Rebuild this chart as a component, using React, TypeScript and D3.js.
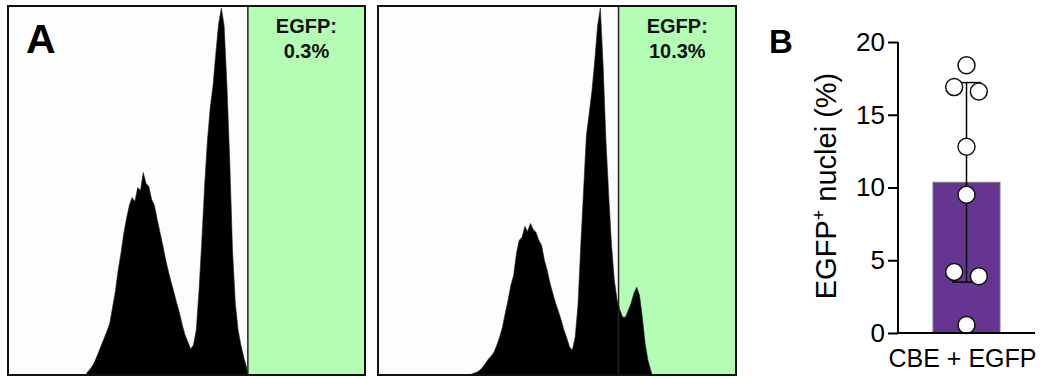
import React, { useEffect, useRef } from "react";
import * as d3 from "d3";

// ---------- Data ----------
// Flow cytometry histograms (counts per 2-channel bin, 256-channel scale)
const binWidth = 2;
const gateChannel = 172;
const leftStartChannel = 56;
const leftCounts = [
  3, 6, 10, 16, 23, 30, 37, 44, 52, 68, 84, 105, 122, 142, 157, 170, 178, 174,
  188, 185, 203, 192, 189, 176, 170, 156, 143, 130, 116, 104, 93, 83, 72, 62,
  50, 40, 33, 26, 30, 45, 85, 135, 190, 235, 268, 290, 322, 352, 368, 350, 290,
  215, 125, 72, 45, 30, 18, 8,
];
const rightStartChannel = 66;
const rightCounts = [
  1, 2, 3, 5, 8, 12, 16, 19, 23, 30, 38, 48, 62, 75, 90, 100, 122, 135, 138,
  149, 144, 152, 146, 143, 135, 130, 115, 105, 92, 82, 72, 64, 55, 45, 37, 28,
  25, 38, 70, 130, 185, 240, 262, 285, 315, 350, 368, 310, 235, 180, 130, 95,
  75, 65, 58, 58, 65, 72, 82, 88, 80, 58, 32, 15, 5,
];
const gateLabels = ["0.3%", "10.3%"];

// Bar chart
const category = "CBE + EGFP";
const pointValues = [18.4, 16.9, 16.6, 12.8, 9.5, 4.2, 3.9, 0.55];
const yTicks = [0, 5, 10, 15, 20];

const FONT = "Arial, 'Liberation Sans', Helvetica, sans-serif";

function Histogram({
  x0, x1, y0, y1, start, counts, label,
}: { x0: number; x1: number; y0: number; y1: number; start: number; counts: number[]; label: string }) {
  const x = d3.scaleLinear().domain([0, 256]).range([x0, x1]);
  const y = d3.scaleLinear().domain([0, 370]).range([y1, y0]);
  const pts = [{ ch: start, c: 0 }];
  counts.forEach((c, i) => pts.push({ ch: start + i * binWidth + binWidth / 2, c }));
  pts.push({ ch: start + counts.length * binWidth, c: 0 });
  const area = d3
    .area<{ ch: number; c: number }>()
    .x((d) => x(d.ch))
    .y0(y(0))
    .y1((d) => y(d.c))
    .curve(d3.curveLinear);
  const gx = x(gateChannel);
  const cx = (gx + x1) / 2;
  return (
    <g>
      <rect x={x0} y={y0} width={x1 - x0} height={y1 - y0} fill="#fdfdfd" />
      <rect x={gx} y={y0} width={x1 - gx} height={y1 - y0} fill="#b4fdb4" />
      <path d={area(pts) || ""} fill="#000" stroke="#222" strokeWidth={0.6} />
      <line x1={gx} x2={gx} y1={y0} y2={y1} stroke="#222" strokeWidth={1.5} />
      <rect x={x0} y={y0} width={x1 - x0} height={y1 - y0} fill="none" stroke="#111" strokeWidth={2} />
      <text x={cx} y={33} textAnchor="middle" fontFamily={FONT} fontWeight="bold" fontSize={20} fill="#111">
        EGFP:
      </text>
      <text x={cx} y={58} textAnchor="middle" fontFamily={FONT} fontWeight="bold" fontSize={20} fill="#111">
        {label}
      </text>
    </g>
  );
}

function BarChart() {
  const axisRef = useRef<SVGGElement>(null);
  const y = d3.scaleLinear().domain([0, 20]).range([333, 42]);
  const x = d3.scaleBand().domain([category]).range([898, 1035]).padding(0.343);
  const mean = d3.mean(pointValues) as number;
  const sd = d3.deviation(pointValues) as number;
  const cx = (x(category) as number) + x.bandwidth() / 2;
  const r = 8.5;

  // GraphPad-like scatter layout: group values into bins ~1 point diameter tall
  const binSize = y.invert(0) - y.invert(2 * r);
  const groups = d3.group(pointValues.map((v, i) => ({ v, i })), (d) => Math.floor(d.v / binSize));
  const spread = 2.9 * r;
  const placed: { v: number; px: number }[] = [];
  groups.forEach((arr) => {
    const n = arr.length;
    arr.forEach((d, k) => {
      placed.push({ v: d.v, px: cx + (k - (n - 1) / 2) * spread });
    });
  });

  useEffect(() => {
    if (!axisRef.current) return;
    const g = d3.select(axisRef.current);
    g.selectAll("*").remove();
    g.call(d3.axisLeft(y).tickValues(yTicks).tickSize(10).tickPadding(3).tickFormat(d3.format("d")));
    g.select(".domain").remove();
    g.selectAll(".tick line").attr("stroke", "#000").attr("stroke-width", 2);
    g.selectAll(".tick text")
      .attr("font-family", FONT)
      .attr("font-size", 26)
      .attr("fill", "#000");
  }, []);

  return (
    <g>
      <rect
        x={x(category)}
        y={y(mean)}
        width={x.bandwidth()}
        height={y(0) - y(mean)}
        fill="#663592"
        stroke="#7a7a7a"
        strokeWidth={1}
      />
      <line x1={cx} x2={cx} y1={y(mean - sd)} y2={y(mean + sd)} stroke="#000" strokeWidth={1.5} />
      <line x1={cx - 14.5} x2={cx + 14.5} y1={y(mean + sd)} y2={y(mean + sd)} stroke="#000" strokeWidth={1.5} />
      <line x1={cx - 14.5} x2={cx + 14.5} y1={y(mean - sd)} y2={y(mean - sd)} stroke="#000" strokeWidth={1.5} />
      {placed.map((p, i) => (
        <circle key={i} cx={p.px} cy={y(p.v)} r={r} fill="#fff" stroke="#111" strokeWidth={1.5} />
      ))}
      <g ref={axisRef} transform="translate(898,0)" />
      <line x1={898} x2={898} y1={y(20)} y2={y(0) + 1} stroke="#000" strokeWidth={2} />
      <line x1={897} x2={1035} y1={y(0)} y2={y(0)} stroke="#000" strokeWidth={2} />
      <text x={cx - 4} y={367} textAnchor="middle" fontFamily={FONT} fontSize={25} fill="#000">
        {category}
      </text>
      <text
        transform={`translate(836,186) rotate(-90)`}
        textAnchor="middle"
        fontFamily={FONT}
        fontSize={29}
        fill="#000"
      >
        EGFP
        <tspan fontSize={18} dy={-11}>+</tspan>
        <tspan dy={11}> nuclei (%)</tspan>
      </text>
    </g>
  );
}

export default function App() {
  return (
    <svg
      width={1049}
      height={379}
      style={{ position: "absolute", left: 0, top: 0, background: "#fff" }}
    >
      <Histogram x0={8} x1={365} y0={6} y1={375} start={leftStartChannel} counts={leftCounts} label={gateLabels[0]} />
      <Histogram x0={378} x1={736} y0={6} y1={375} start={rightStartChannel} counts={rightCounts} label={gateLabels[1]} />
      <text x={26} y={53} fontFamily={FONT} fontWeight="bold" fontSize={41} fill="#000">
        A
      </text>
      <text x={769} y={53} fontFamily={FONT} fontWeight="bold" fontSize={33} fill="#000">
        B
      </text>
      <BarChart />
    </svg>
  );
}
